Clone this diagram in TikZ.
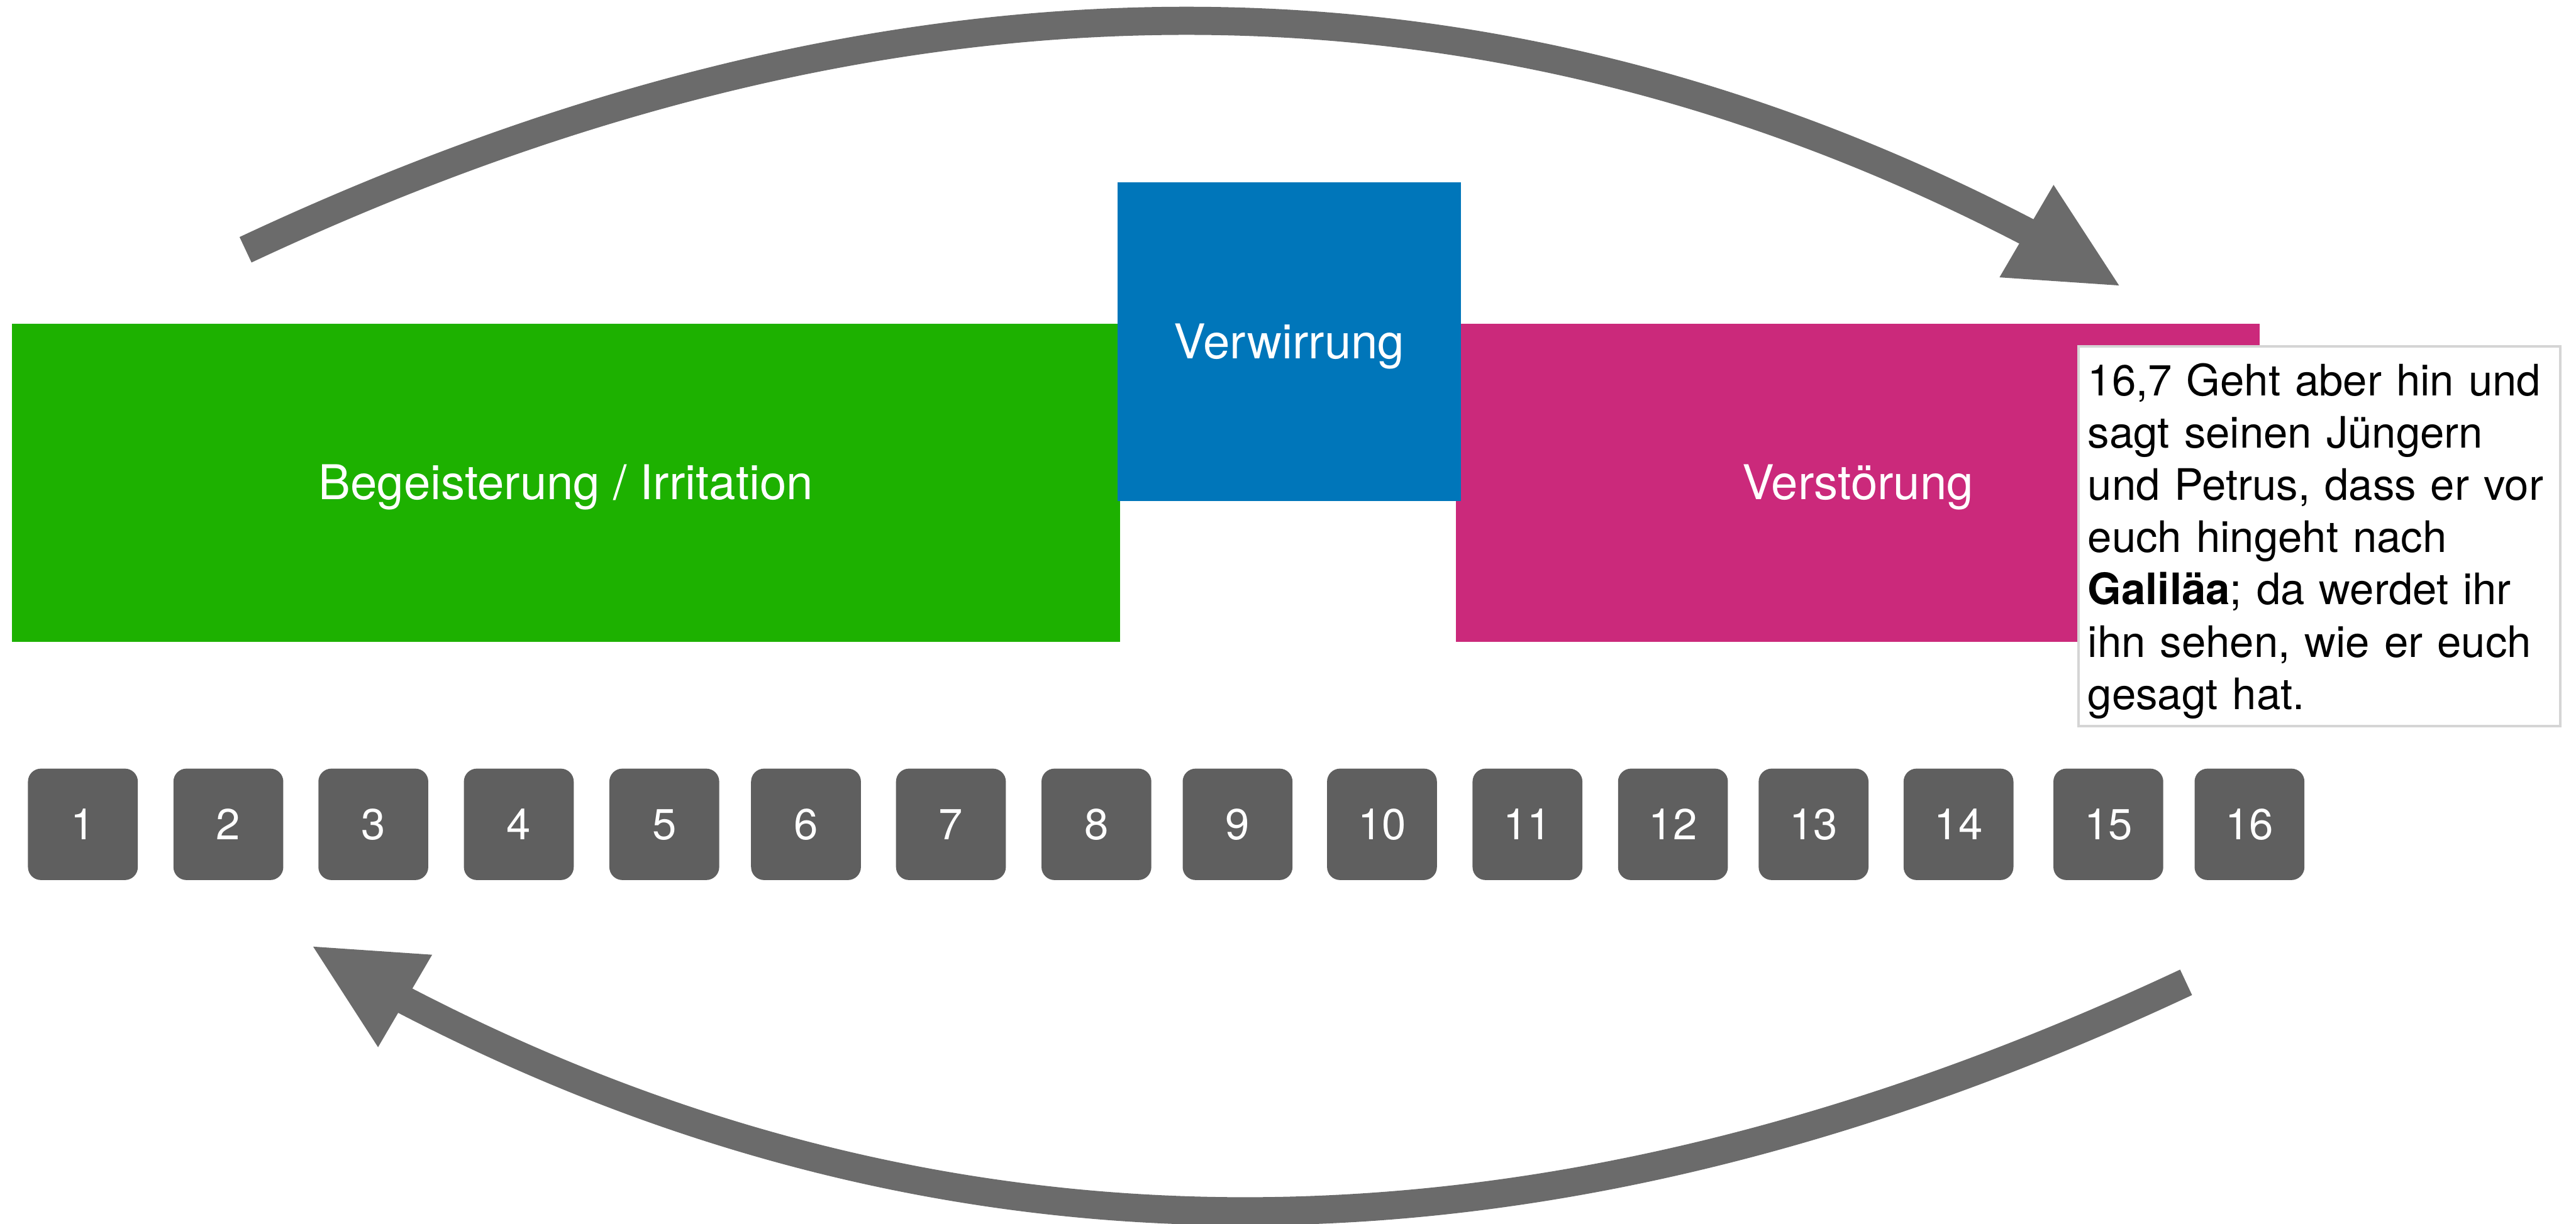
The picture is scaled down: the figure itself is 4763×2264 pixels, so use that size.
\documentclass[tikz,border=0pt]{standalone}
\usepackage{fontspec}
\setmainfont{TeX Gyre Heros}
\definecolor{phasegreen}{HTML}{1DB100}
\definecolor{phaseblue}{HTML}{0076BA}
\definecolor{phasemagenta}{HTML}{CB297B}
\definecolor{boxgray}{HTML}{5F5F5F}
\definecolor{arrowgray}{HTML}{6B6B6B}
\definecolor{framegray}{HTML}{D5D5D5}
\begin{document}
\begin{tikzpicture}[x=0.01cm, y=-0.01cm,
  phase/.style={rectangle, anchor=north west, inner sep=0pt, text=white,
    text height=0.63cm, text depth=0pt, font=\fontsize{25.2}{30}\selectfont},
  numbox/.style={rectangle, rounded corners=0.24cm, fill=boxgray, text=white,
    minimum width=2.03cm, minimum height=2.06cm, inner sep=0pt,
    text height=0.57cm, text depth=0pt, anchor=north west,
    font=\fontsize{22.8}{27}\selectfont},
  quote/.style={rectangle, anchor=north west, draw=framegray, line width=0.045cm,
    fill=white, text width=8.56cm, inner xsep=0.17cm, inner ysep=0pt,
    align=left, font=\fontsize{22.8}{27.5}\selectfont},
  flow/.style={draw=arrowgray, line width=0.52cm},
  head/.style={fill=arrowgray}]
\useasboundingbox (0,0) rectangle (4763,2264);

% phase bars
\node[phase, fill=phasegreen, minimum width=20.48cm, minimum height=5.88cm]
  (begeist) at (21,598) {Begeisterung / Irritation};
\node[phase, fill=phasemagenta, minimum width=14.86cm, minimum height=5.88cm]
  (verstoer) at (2691,598) {Verstörung};
\node[phase, fill=phaseblue, minimum width=6.34cm, minimum height=5.89cm]
  (verwirr) at (2066,337) {Verwirrung};

% quotation box
\node[quote] (zitat) at (3841,638)
  {\rule{0pt}{0.915cm}16,7 Geht aber hin und\\
   sagt seinen Jüngern\\
   und Petrus, dass er vor\\
   euch hingeht nach\\
   \textbf{Galiläa}; da werdet ihr\\
   ihn sehen, wie er euch\\
   gesagt hat.\rule[-0.31cm]{0pt}{0.31cm}};

% chapter boxes
\foreach \i/\x in {1/51,2/320,3/588,4/857,5/1126,6/1388,7/1656,8/1925,
                   9/2186,10/2453,11/2722,12/2991,13/3251,14/3519,15/3796,16/4057}
  \node[numbox] (n\i) at (\x,1421) {\i};

% upper arrow
\coordinate (up0) at (454,462);
\coordinate (up1) at (3760,435);
\coordinate (uptipA) at (3797,342);
\coordinate (uptip) at (3918,528);
\coordinate (uptipC) at (3697,513);
\draw[flow] (up0) .. controls (1635,-92) and (2732,-104) .. (up1);
\fill[head] (uptipA) -- (uptip) -- (uptipC) -- cycle;

% lower arrow
\coordinate (lo0) at (4042,1817);
\coordinate (lo1) at (736,1844);
\coordinate (lotipA) at (699,1937);
\coordinate (lotip) at (579,1751);
\coordinate (lotipC) at (799,1766);
\draw[flow] (lo0) .. controls (2861,2371) and (1764,2383) .. (lo1);
\fill[head] (lotipA) -- (lotip) -- (lotipC) -- cycle;
\end{tikzpicture}
\end{document}
